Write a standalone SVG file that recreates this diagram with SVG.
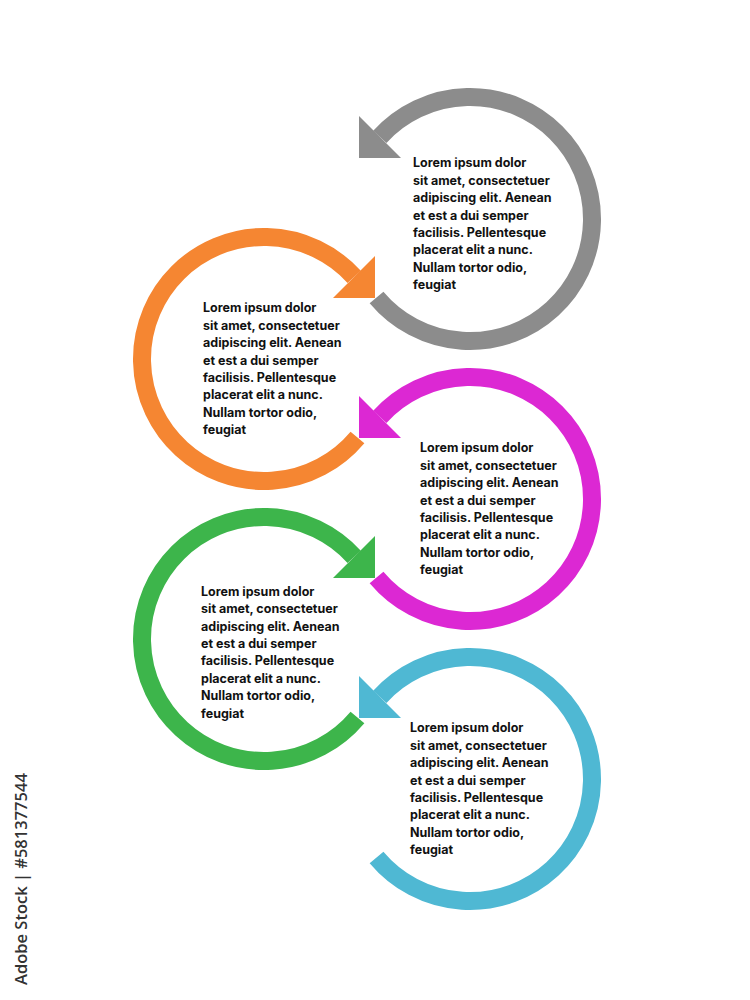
<svg xmlns="http://www.w3.org/2000/svg" width="750" height="1000" viewBox="0 0 750 1000">
<style>
.ring{fill:none;stroke-width:18;stroke-linecap:butt}
.txt{font-family:Inter,"Liberation Sans",sans-serif;font-weight:700;font-size:12.5px;fill:#111}
.wm{font-family:"Open Sans","Noto Sans",sans-serif;font-weight:600;font-size:16.5px;fill:#333}
</style>
<rect width="750" height="1000" fill="#fff"/>
<g id="connectors"/>
<g id="node-gray">
<g transform="translate(470,219)">
<path class="ring" stroke="#8c8c8c" d="M -93.46 78.42 A 122 122 0 1 0 -90.17 -82.17"/>
<polygon fill="#8c8c8c" points="-111,-103 -111,-61 -69,-61"/>
</g>
<text class="txt" x="413" y="167.3">
<tspan x="413">Lorem ipsum dolor</tspan>
<tspan x="413" dy="17.4">sit amet, consectetuer</tspan>
<tspan x="413" dy="17.4">adipiscing elit. Aenean</tspan>
<tspan x="413" dy="17.4">et est a dui semper</tspan>
<tspan x="413" dy="17.4">facilisis. Pellentesque</tspan>
<tspan x="413" dy="17.4">placerat elit a nunc.</tspan>
<tspan x="413" dy="17.4">Nullam tortor odio,</tspan>
<tspan x="413" dy="17.4">feugiat</tspan>
</text>
</g>
<g id="node-orange">
<g transform="translate(264,359)">
<path class="ring" stroke="#f58632" d="M 93.46 78.42 A 122 122 0 1 1 90.17 -82.17"/>
<polygon fill="#f58632" points="111,-103 111,-61 69,-61"/>
</g>
<text class="txt" x="203" y="312.3">
<tspan x="203">Lorem ipsum dolor</tspan>
<tspan x="203" dy="17.4">sit amet, consectetuer</tspan>
<tspan x="203" dy="17.4">adipiscing elit. Aenean</tspan>
<tspan x="203" dy="17.4">et est a dui semper</tspan>
<tspan x="203" dy="17.4">facilisis. Pellentesque</tspan>
<tspan x="203" dy="17.4">placerat elit a nunc.</tspan>
<tspan x="203" dy="17.4">Nullam tortor odio,</tspan>
<tspan x="203" dy="17.4">feugiat</tspan>
</text>
</g>
<g id="node-magenta">
<g transform="translate(470,499)">
<path class="ring" stroke="#dc28d3" d="M -93.46 78.42 A 122 122 0 1 0 -90.17 -82.17"/>
<polygon fill="#dc28d3" points="-111,-103 -111,-61 -69,-61"/>
</g>
<text class="txt" x="420" y="452.3">
<tspan x="420">Lorem ipsum dolor</tspan>
<tspan x="420" dy="17.4">sit amet, consectetuer</tspan>
<tspan x="420" dy="17.4">adipiscing elit. Aenean</tspan>
<tspan x="420" dy="17.4">et est a dui semper</tspan>
<tspan x="420" dy="17.4">facilisis. Pellentesque</tspan>
<tspan x="420" dy="17.4">placerat elit a nunc.</tspan>
<tspan x="420" dy="17.4">Nullam tortor odio,</tspan>
<tspan x="420" dy="17.4">feugiat</tspan>
</text>
</g>
<g id="node-green">
<g transform="translate(264,639)">
<path class="ring" stroke="#3db54b" d="M 93.46 78.42 A 122 122 0 1 1 90.17 -82.17"/>
<polygon fill="#3db54b" points="111,-103 111,-61 69,-61"/>
</g>
<text class="txt" x="201" y="595.7">
<tspan x="201">Lorem ipsum dolor</tspan>
<tspan x="201" dy="17.4">sit amet, consectetuer</tspan>
<tspan x="201" dy="17.4">adipiscing elit. Aenean</tspan>
<tspan x="201" dy="17.4">et est a dui semper</tspan>
<tspan x="201" dy="17.4">facilisis. Pellentesque</tspan>
<tspan x="201" dy="17.4">placerat elit a nunc.</tspan>
<tspan x="201" dy="17.4">Nullam tortor odio,</tspan>
<tspan x="201" dy="17.4">feugiat</tspan>
</text>
</g>
<g id="node-blue">
<g transform="translate(470,779)">
<path class="ring" stroke="#4fb8d3" d="M -93.46 78.42 A 122 122 0 1 0 -90.17 -82.17"/>
<polygon fill="#4fb8d3" points="-111,-103 -111,-61 -69,-61"/>
</g>
<text class="txt" x="410" y="732.3">
<tspan x="410">Lorem ipsum dolor</tspan>
<tspan x="410" dy="17.4">sit amet, consectetuer</tspan>
<tspan x="410" dy="17.4">adipiscing elit. Aenean</tspan>
<tspan x="410" dy="17.4">et est a dui semper</tspan>
<tspan x="410" dy="17.4">facilisis. Pellentesque</tspan>
<tspan x="410" dy="17.4">placerat elit a nunc.</tspan>
<tspan x="410" dy="17.4">Nullam tortor odio,</tspan>
<tspan x="410" dy="17.4">feugiat</tspan>
</text>
</g>
<text class="wm" transform="translate(27,985) rotate(-90)">Adobe Stock | #581377544</text>
</svg>
